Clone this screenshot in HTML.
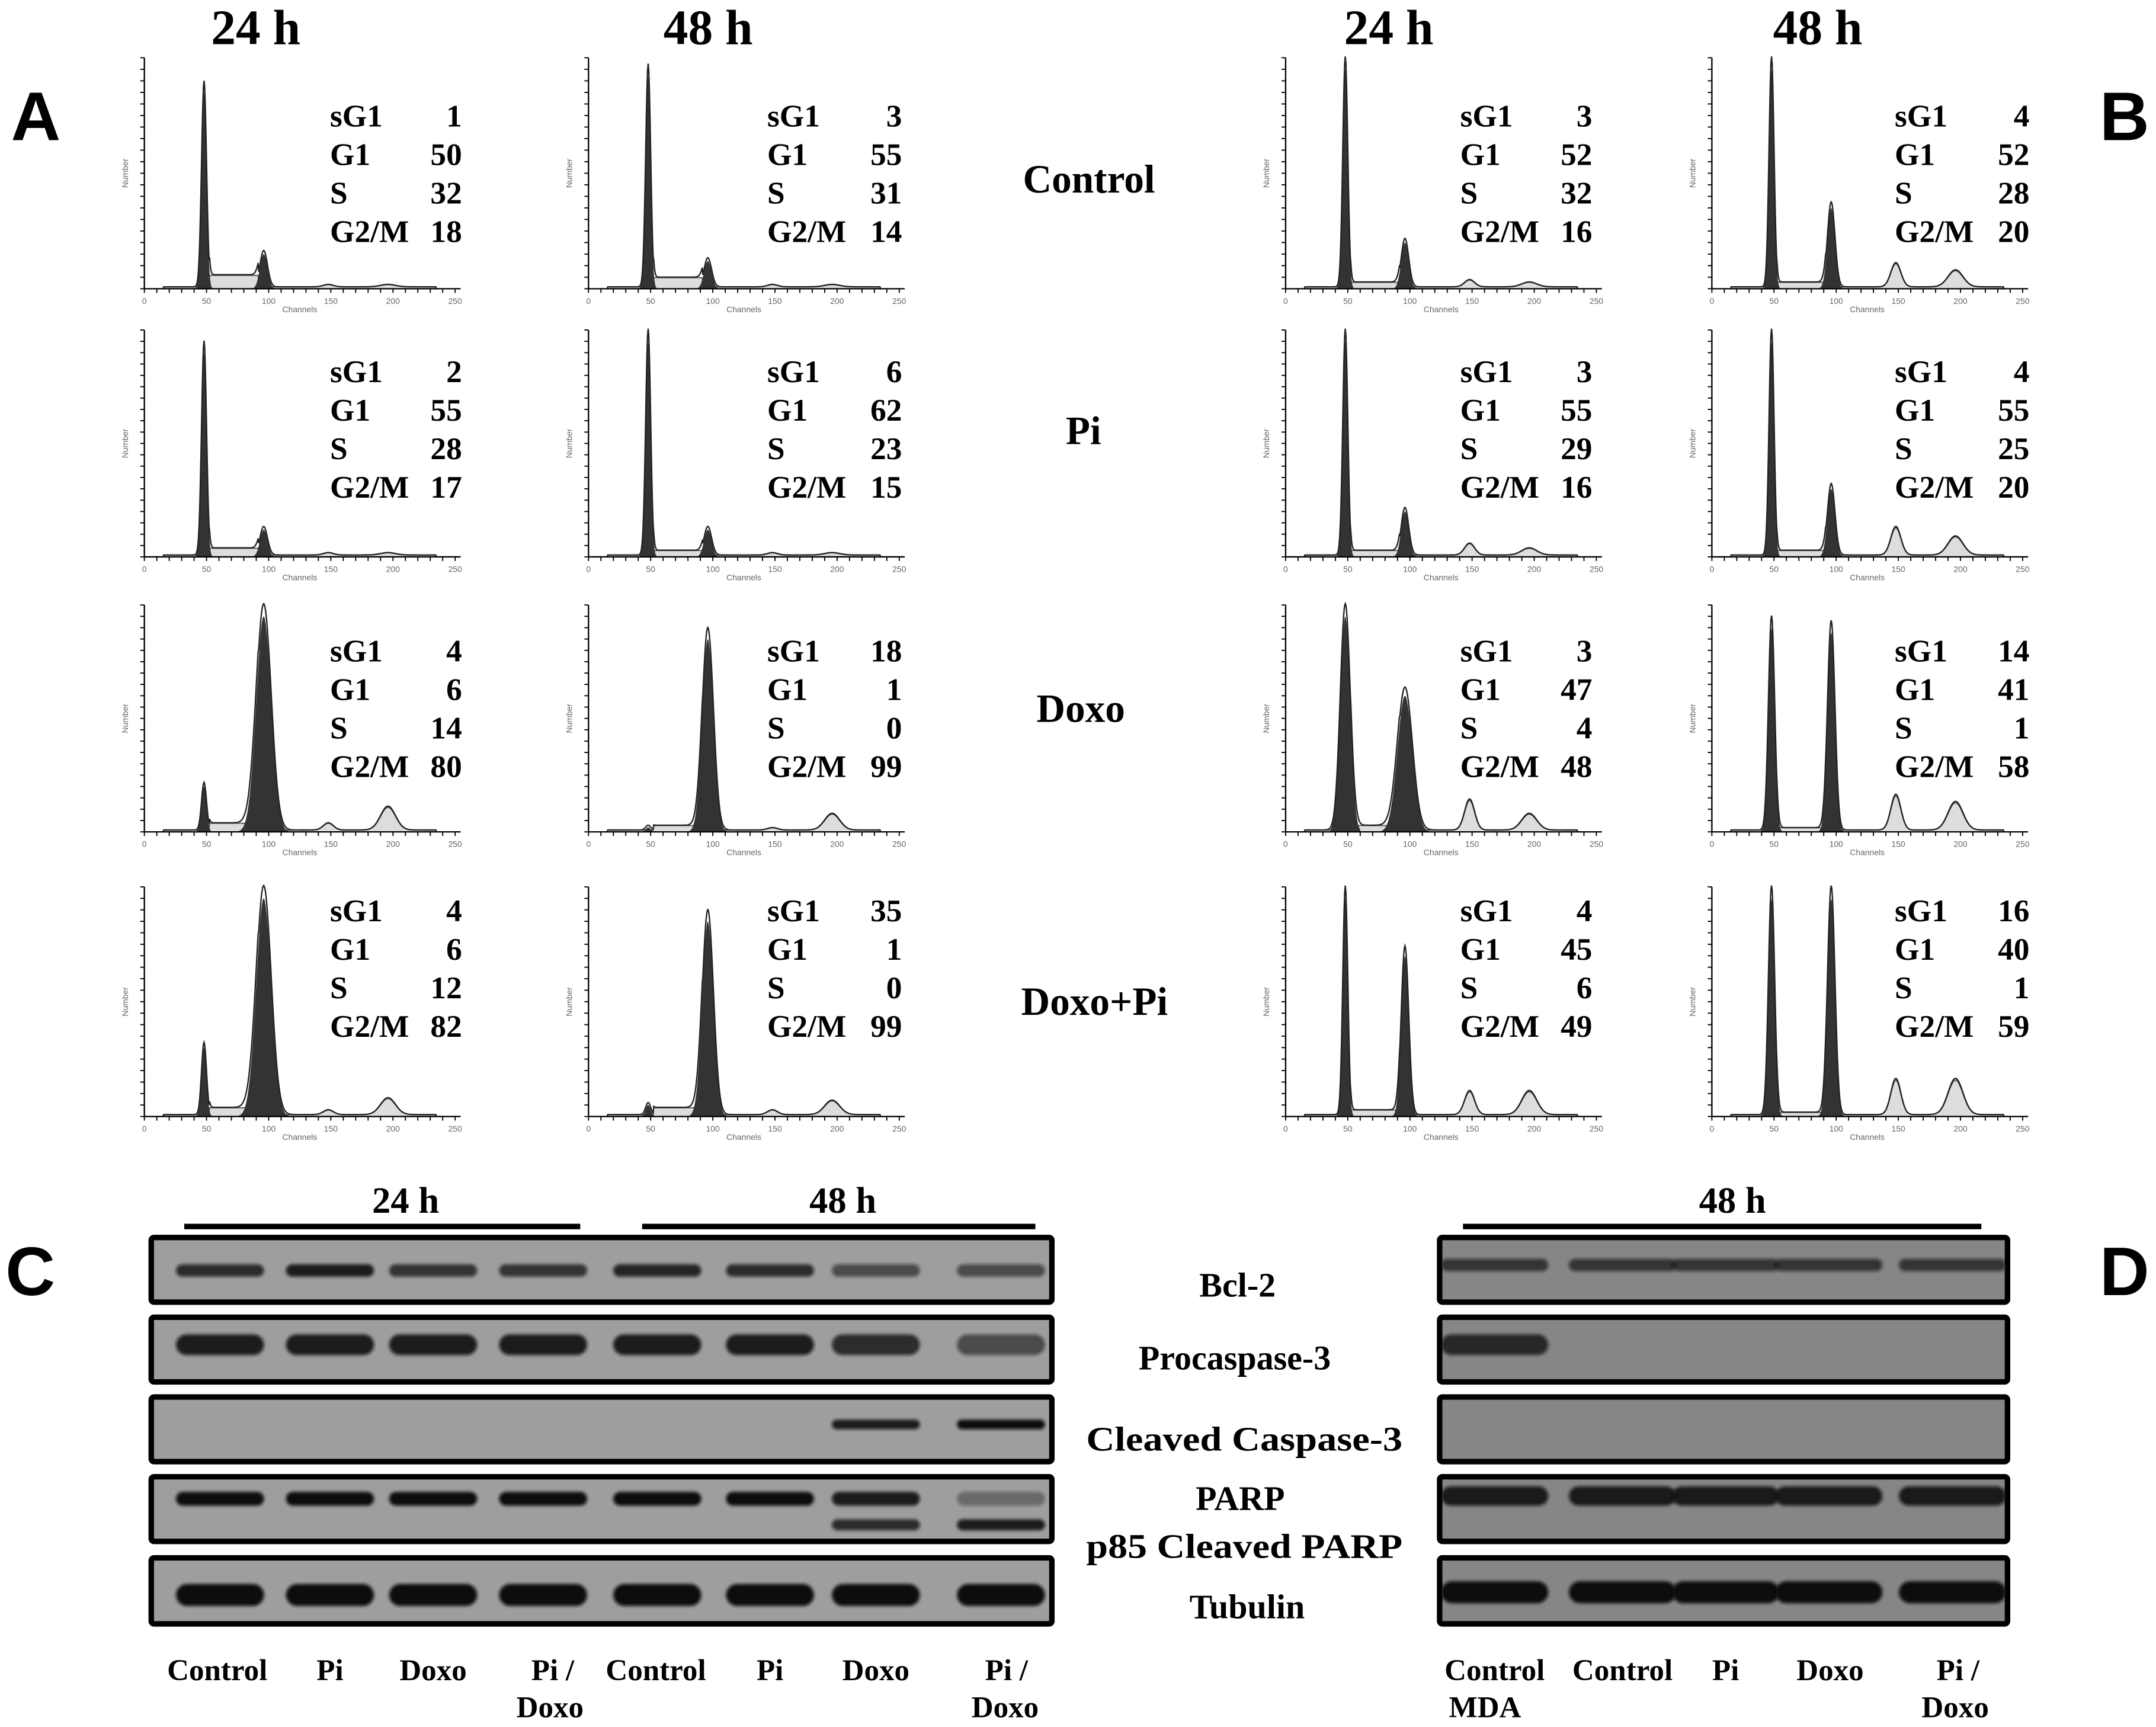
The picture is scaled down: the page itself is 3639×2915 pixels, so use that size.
<!DOCTYPE html>
<html><head><meta charset="utf-8"><style>
html,body{margin:0;padding:0;background:#fff}
svg{display:block}
text{font-family:"Liberation Serif",serif;font-weight:bold;fill:#000}
</style></head><body>
<svg id="fig" xmlns="http://www.w3.org/2000/svg" width="3639" height="2915" viewBox="0 0 1568 1256" preserveAspectRatio="none">
<defs><filter id="blur" x="-20%" y="-80%" width="140%" height="260%"><feGaussianBlur stdDeviation="1.2"/></filter></defs>
<rect width="1568" height="1256" fill="#fff"/>
<g>
<text x="8" y="102" font-size="50" style="font-family:'Liberation Sans',sans-serif">A</text>
<text x="1527" y="102" font-size="50" style="font-family:'Liberation Sans',sans-serif">B</text>
<text x="4" y="942" font-size="50" style="font-family:'Liberation Sans',sans-serif">C</text>
<text x="1527" y="942" font-size="50" style="font-family:'Liberation Sans',sans-serif">D</text>
</g>
<g font-size="36" text-anchor="middle">
<text x="186" y="32">24 h</text><text x="515" y="32">48 h</text>
<text x="1010" y="32">24 h</text><text x="1322" y="32">48 h</text>
</g>
<g font-size="29" text-anchor="middle">
<text x="792" y="140">Control</text><text x="788" y="323">Pi</text>
<text x="786" y="525">Doxo</text><text x="796" y="738">Doxo+Pi</text>
</g>
<g id="hists"></g>
<g id="blots"></g>
<g font-size="25" text-anchor="middle">
<text x="900" y="943">Bcl-2</text><text x="898" y="996">Procaspase-3</text>
<text x="905" y="1055" textLength="230" lengthAdjust="spacingAndGlyphs">Cleaved Caspase-3</text><text x="902" y="1098">PARP</text>
<text x="905" y="1133" textLength="230" lengthAdjust="spacingAndGlyphs">p85 Cleaved PARP</text><text x="907" y="1177">Tubulin</text>
</g>
<g font-size="22" text-anchor="middle">
<text x="158" y="1222">Control</text><text x="240" y="1222">Pi</text><text x="315" y="1222">Doxo</text>
<text x="402" y="1222">Pi /</text><text x="400" y="1249">Doxo</text>
<text x="477" y="1222">Control</text><text x="560" y="1222">Pi</text><text x="637" y="1222">Doxo</text>
<text x="732" y="1222">Pi /</text><text x="731" y="1249">Doxo</text>
<text x="1087" y="1222">Control</text><text x="1080" y="1249">MDA</text>
<text x="1180" y="1222">Control</text><text x="1255" y="1222">Pi</text><text x="1331" y="1222">Doxo</text>
<text x="1424" y="1222">Pi /</text><text x="1422" y="1249">Doxo</text>
</g>
<g font-size="27" text-anchor="middle">
<text x="295" y="882">24 h</text><text x="613" y="882">48 h</text><text x="1260" y="882">48 h</text>
<rect x="134" y="890" width="288" height="4" fill="#000"/>
<rect x="467" y="890" width="286" height="4" fill="#000"/>
<rect x="1064" y="890" width="377" height="4" fill="#000"/>
</g>
</svg>
<script>
// Histogram data, index = col*4 + row (cols: A24, A48, B24, B48; rows: Control, Pi, Doxo, Doxo+Pi)
const g1Height=[0.85,0.90,0.20,0.30, 0.92,0.95,0.02,0.05, 0.95,0.95,0.95,0.95, 0.95,0.95,0.90,0.95];
const g2Height=[0.15,0.12,0.95,0.95, 0.12,0.12,0.85,0.85, 0.20,0.20,0.60,0.70, 0.35,0.30,0.88,0.95];
const g1Sigma=[2,2,2,2, 2,2,2,2, 2,2,4,2, 2,2,2.5,2.5];
const g2Sigma=[3,3,6,6, 3,3,4.5,4.5, 3,3,6,3, 3,3,3,3];
const sPhase=[0.05,0.03,0.03,0.03, 0.04,0.02,0.02,0.03, 0.02,0.02,0.02,0.02, 0.02,0.02,0.01,0.01];
const p150=[0.01,0.01,0.03,0.02, 0.01,0.01,0.01,0.02, 0.03,0.05,0.13,0.10, 0.10,0.12,0.15,0.15];
const p200=[0.01,0.01,0.10,0.07, 0.01,0.01,0.07,0.06, 0.02,0.03,0.07,0.10, 0.07,0.08,0.12,0.15];
const statNames=["sG1","G1","S","G2/M"];
// stat values, index = col*4 + row
const statVals=[[1,50,32,18],[2,55,28,17],[4,6,14,80],[4,6,12,82],
[3,55,31,14],[6,62,23,15],[18,1,0,99],[35,1,0,99],
[3,52,32,16],[3,55,29,16],[3,47,4,48],[4,45,6,49],
[4,52,28,20],[4,55,25,20],[14,41,1,58],[16,40,1,59]];
const xTicks=[0,50,100,150,200,250];
const colX=[105,428,935,1245], rowTop=[42,240,440,645], rowBot=[210,405,605,812];
const labX=[240,558,1062,1378], valX=[336,656,1158,1476], textY=[92,278,481,670];
const NS="http://www.w3.org/2000/svg";
function mk(t,a,p){const e=document.createElementNS(NS,t);for(const k in a)e.setAttribute(k,a[k]);p.appendChild(e);return e;}
const H=document.getElementById('hists');
function gauss(c,m,s){return Math.exp(-0.5*((c-m)/s)**2);}
for(let col=0;col<4;col++)for(let row=0;row<4;row++){
  const k=col*4+row;
  const g=mk('g',{},H);
  
  
  const x0=colX[col],W=226,yb=rowBot[row],yt=rowTop[row],Hh=yb-yt;
  const sx=c=>x0+c/250*W, sy=v=>yb-v*Hh;
  const f1=c=>g1Height[k]*gauss(c,48,g1Sigma[k]);
  const f2=c=>g2Height[k]*gauss(c,96,g2Sigma[k]);
  const fo=c=>(c>52&&c<92?sPhase[k]:0)+p150[k]*gauss(c,148,4)+p200[k]*gauss(c,196,6)+(c>15&&c<235?0.008:0);
  let d1=`M${sx(36)},${yb}`,d2=`M${sx(75)},${yb}`,dO=`M${sx(15)},${yb}`,dl='';
  for(let c=15;c<=235;c+=0.5){
    const tot=f1(c)+f2(c)+fo(c);
    if(c>=36&&c<=60)d1+=`L${sx(c)},${sy(f1(c))}`;
    if(c>=75&&c<=120)d2+=`L${sx(c)},${sy(f2(c))}`;
    dO+=`L${sx(c)},${sy(fo(c))}`;
    dl+=(dl?'L':'M')+sx(c)+','+sy(tot*1.05);
  }
  d1+=`L${sx(60)},${yb}Z`;d2+=`L${sx(120)},${yb}Z`;dO+=`L${sx(235)},${yb}Z`;
  const o=mk('path',{d:dO,fill:'#ddd',stroke:'#555','stroke-width':0.8},g);
  
  
  const a=mk('path',{d:d1,fill:'#333'},g);
  
  
  const b=mk('path',{d:d2,fill:'#333'},g);
  
  
  const l=mk('path',{d:dl,fill:'none',stroke:'#222','stroke-width':1},g);
  
  
  mk('line',{x1:x0,y1:yt,x2:x0,y2:yb,stroke:'#000','stroke-width':1},g);
  mk('line',{x1:x0,y1:yb,x2:x0+W+4,y2:yb,stroke:'#000','stroke-width':1},g);
  for(let c=0;c<=250;c+=10)mk('line',{x1:sx(c),y1:yb,x2:sx(c),y2:yb+3,stroke:'#000','stroke-width':0.8},g);
  for(let t=0;t<=20;t++)mk('line',{x1:x0-3,y1:yb-t*Hh/20,x2:x0,y2:yb-t*Hh/20,stroke:'#000','stroke-width':0.8},g);
  xTicks.forEach(v=>{const t=mk('text',{x:sx(v),y:yb+11,'font-size':6,'text-anchor':'middle',style:'font-family:Liberation Sans,sans-serif;font-weight:normal;fill:#666'},g);t.textContent=v;});
  const ct=mk('text',{x:sx(125),y:yb+17,'font-size':6,'text-anchor':'middle',style:'font-family:Liberation Sans,sans-serif;font-weight:normal;fill:#666'},g);ct.textContent='Channels';
  const yt2=mk('text',{x:x0-12,y:yb-Hh/2,'font-size':6,'text-anchor':'middle',transform:`rotate(-90 ${x0-12} ${yb-Hh/2})`,style:'font-family:Liberation Sans,sans-serif;font-weight:normal;fill:#666'},g);yt2.textContent='Number';
  for(let s=0;s<4;s++){
    const y=textY[row]+s*28;
    const n=mk('text',{x:labX[col],y:y,'font-size':23},g);n.textContent=statNames[s];
    
    
    const v=mk('text',{x:valX[col],y:y,'font-size':23,'text-anchor':'end'},g);v.textContent=statVals[k][s];
    
    
  }
}
// Western blots
const laneC=[160,240,315,395,478,560,637,728];
const laneD=[1087,1180,1255,1330,1420];
const stripY=[900,958,1016,1074,1133], stripH=[47,47,47,47,48];
const stripNames=["bcl2","procaspase3","cleaved-caspase3","parp","tubulin"];
const bandYC=[924,978,1036,1090,1160];
const bandC=[[0.8,0.9,0.75,0.75,0.85,0.8,0.6,0.6],[0.9,0.9,0.9,0.9,0.9,0.9,0.8,0.6],[0,0,0,0,0,0,0.9,1],[1,1,1,1,1,1,0.9,0.4],[1,1,1,1,1,1,1,1]];
const parp85C=[0,0,0,0,0,0,0.8,0.9];
const bandD=[[0.7,0.7,0.7,0.7,0.7],[0.8,0,0,0,0],[0,0,0,0,0],[0.9,0.9,0.9,0.9,0.9],[1,1,1,1,1]];
const bandYD=[920,978,1036,1088,1158];
const bandHeights=[9,15,7,10,16];
const B=document.getElementById('blots');
function strip(x,w,bg,lanes,vals,yb,bw,prefix){
  for(let s=0;s<5;s++){
    const g=mk('g',{},B);
    
    
    mk('rect',{x:x,y:stripY[s],width:w,height:stripH[s],fill:bg,stroke:'#000','stroke-width':4,rx:2},g);
    lanes.forEach((lx,j)=>{const v=vals[s][j];if(v<=0)return;
      let bh=bandHeights[s];
      if(prefix==='d'&&s===3)bh=14;
      const r=mk('rect',{x:lx-bw/2,y:yb[s]-bh/2,width:bw,height:bh,rx:bh/2,fill:'#111','fill-opacity':v,filter:'url(#blur)'},g);
      
      });
  }
}
strip(110,655,'#9e9e9e',laneC,bandC,bandYC,64,'c');
laneC.forEach((lx,j)=>{if(parp85C[j]>0){const r=mk('rect',{x:lx-32,y:1105,width:64,height:8,rx:4,fill:'#111','fill-opacity':parp85C[j],filter:'url(#blur)'},B);

}});
strip(1047,413,'#868686',laneD,bandD,bandYD,78,'d');
</script>
</body></html>
